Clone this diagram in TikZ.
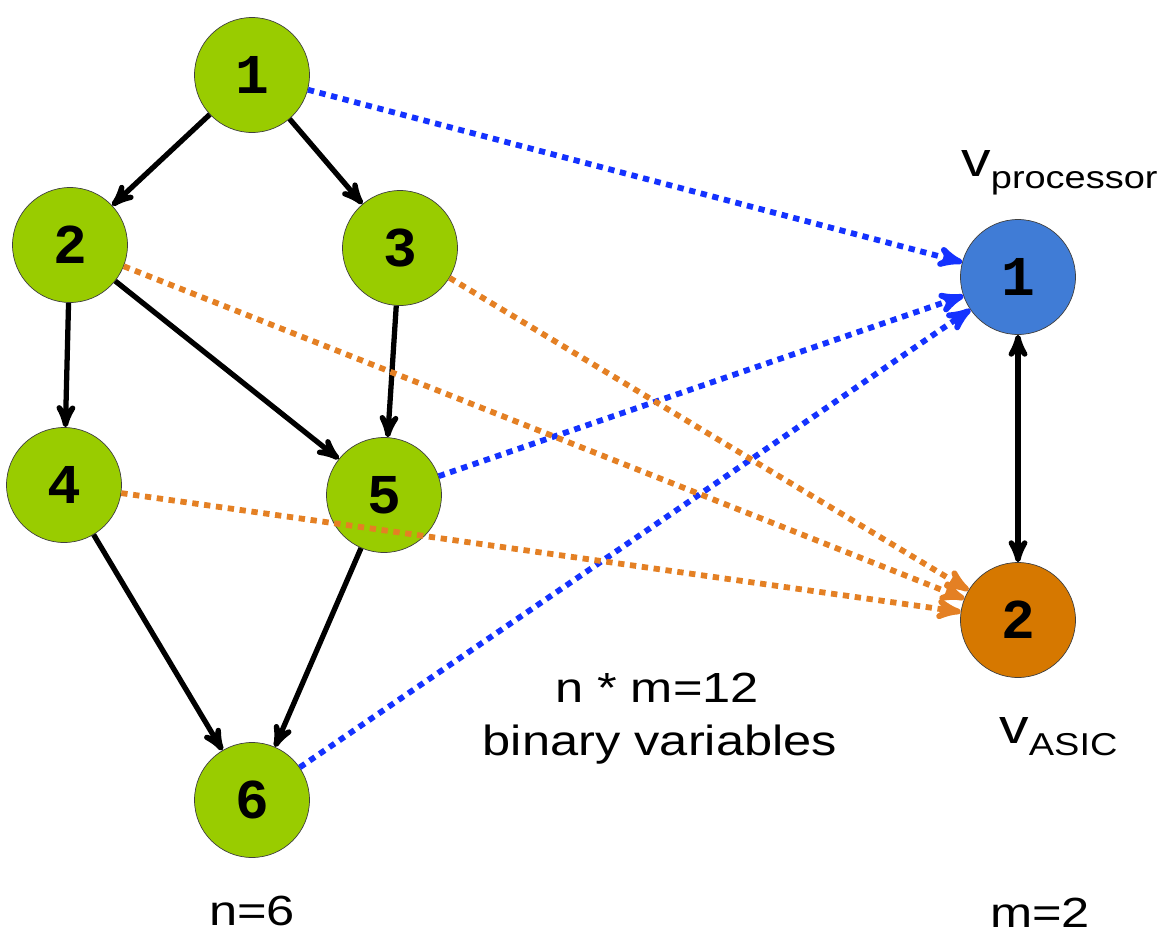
\documentclass[tikz,border=0pt]{standalone}
\usepackage{fontspec}
\setmainfont{Liberation Sans}[FakeStretch=1.2]
\newfontfamily\digitfont{Liberation Mono}
\usetikzlibrary{arrows,positioning}

\definecolor{taskgreen}{RGB}{153,204,0}
\definecolor{procblue}{RGB}{64,124,214}
\definecolor{asicorange}{RGB}{214,120,0}
\definecolor{mapblue}{RGB}{20,50,255}
\definecolor{maporange}{RGB}{228,128,36}

\newcommand{\vname}[1]{{\fontsize{28}{30}\selectfont v}\raisebox{-7pt}{\fontsize{18}{22}\selectfont #1}}

\begin{document}
\begin{tikzpicture}[x=0.02cm,y=-0.02cm,->,>=stealth',semithick,
	vertex/.style={circle,draw=black!75,thin,minimum size=2.3cm,inner sep=0pt,
		font=\fontsize{32}{32}\selectfont\digitfont\bfseries},
	task/.style={vertex,fill=taskgreen},
	dep/.style={line width=3pt,black},
	map/.style={line width=3.3pt,dash pattern=on 3.6pt off 3.2pt},
	lbl/.style={font=\fontsize{24}{28}\selectfont}]
	\path[use as bounding box] (0,0) rectangle (1174,934);

	% task graph
	\node[task] (T1) at (252,75) {1};
	\node[task] (T2) at (70,245) {2};
	\node[task] (T3) at (400,248) {3};
	\node[task] (T4) at (64,485) {4};
	\node[task] (T5) at (384,495) {5};
	\node[task] (T6) at (252,800) {6};

	% resources
	\node[vertex,fill=procblue] (Rp) at (1018,277) {1};
	\node[vertex,fill=asicorange] (Ra) at (1018,620) {2};

	\node[anchor=base west] (Lp) at (955,176) {\vname{processor}};
	\node[anchor=base west] (La) at (993,743) {\vname{ASIC}};
	\node[lbl,anchor=base] (Ln) at (252,925) {n=6};
	\node[lbl,anchor=base] (Lm) at (1040,927) {m=2};
	\node[lbl,anchor=base] (Lnm) at (657,702) {n * m=12};
	\node[lbl,anchor=base] (Lbin) at (660,755) {binary variables};

	\draw[dep] (T1) -- (T2);
	\draw[dep] (T1) -- (T3);
	\draw[dep] (T2) -- (T4);
	\draw[dep] (T2) -- (T5);
	\draw[dep] (T3) -- (T5);
	\draw[dep] (T4) -- (T6);
	\draw[dep] (T5) -- (T6);
	\draw[dep,<->] (Rp) -- (Ra);

	\draw[map,mapblue] (T1) -- (Rp);
	\draw[map,mapblue] (T5) -- (Rp);
	\draw[map,mapblue] (T6) -- (Rp);
	\draw[map,maporange] (T2) -- (Ra);
	\draw[map,maporange] (T3) -- (Ra);
	\draw[map,maporange] (T4) -- (Ra);
\end{tikzpicture}
\end{document}
